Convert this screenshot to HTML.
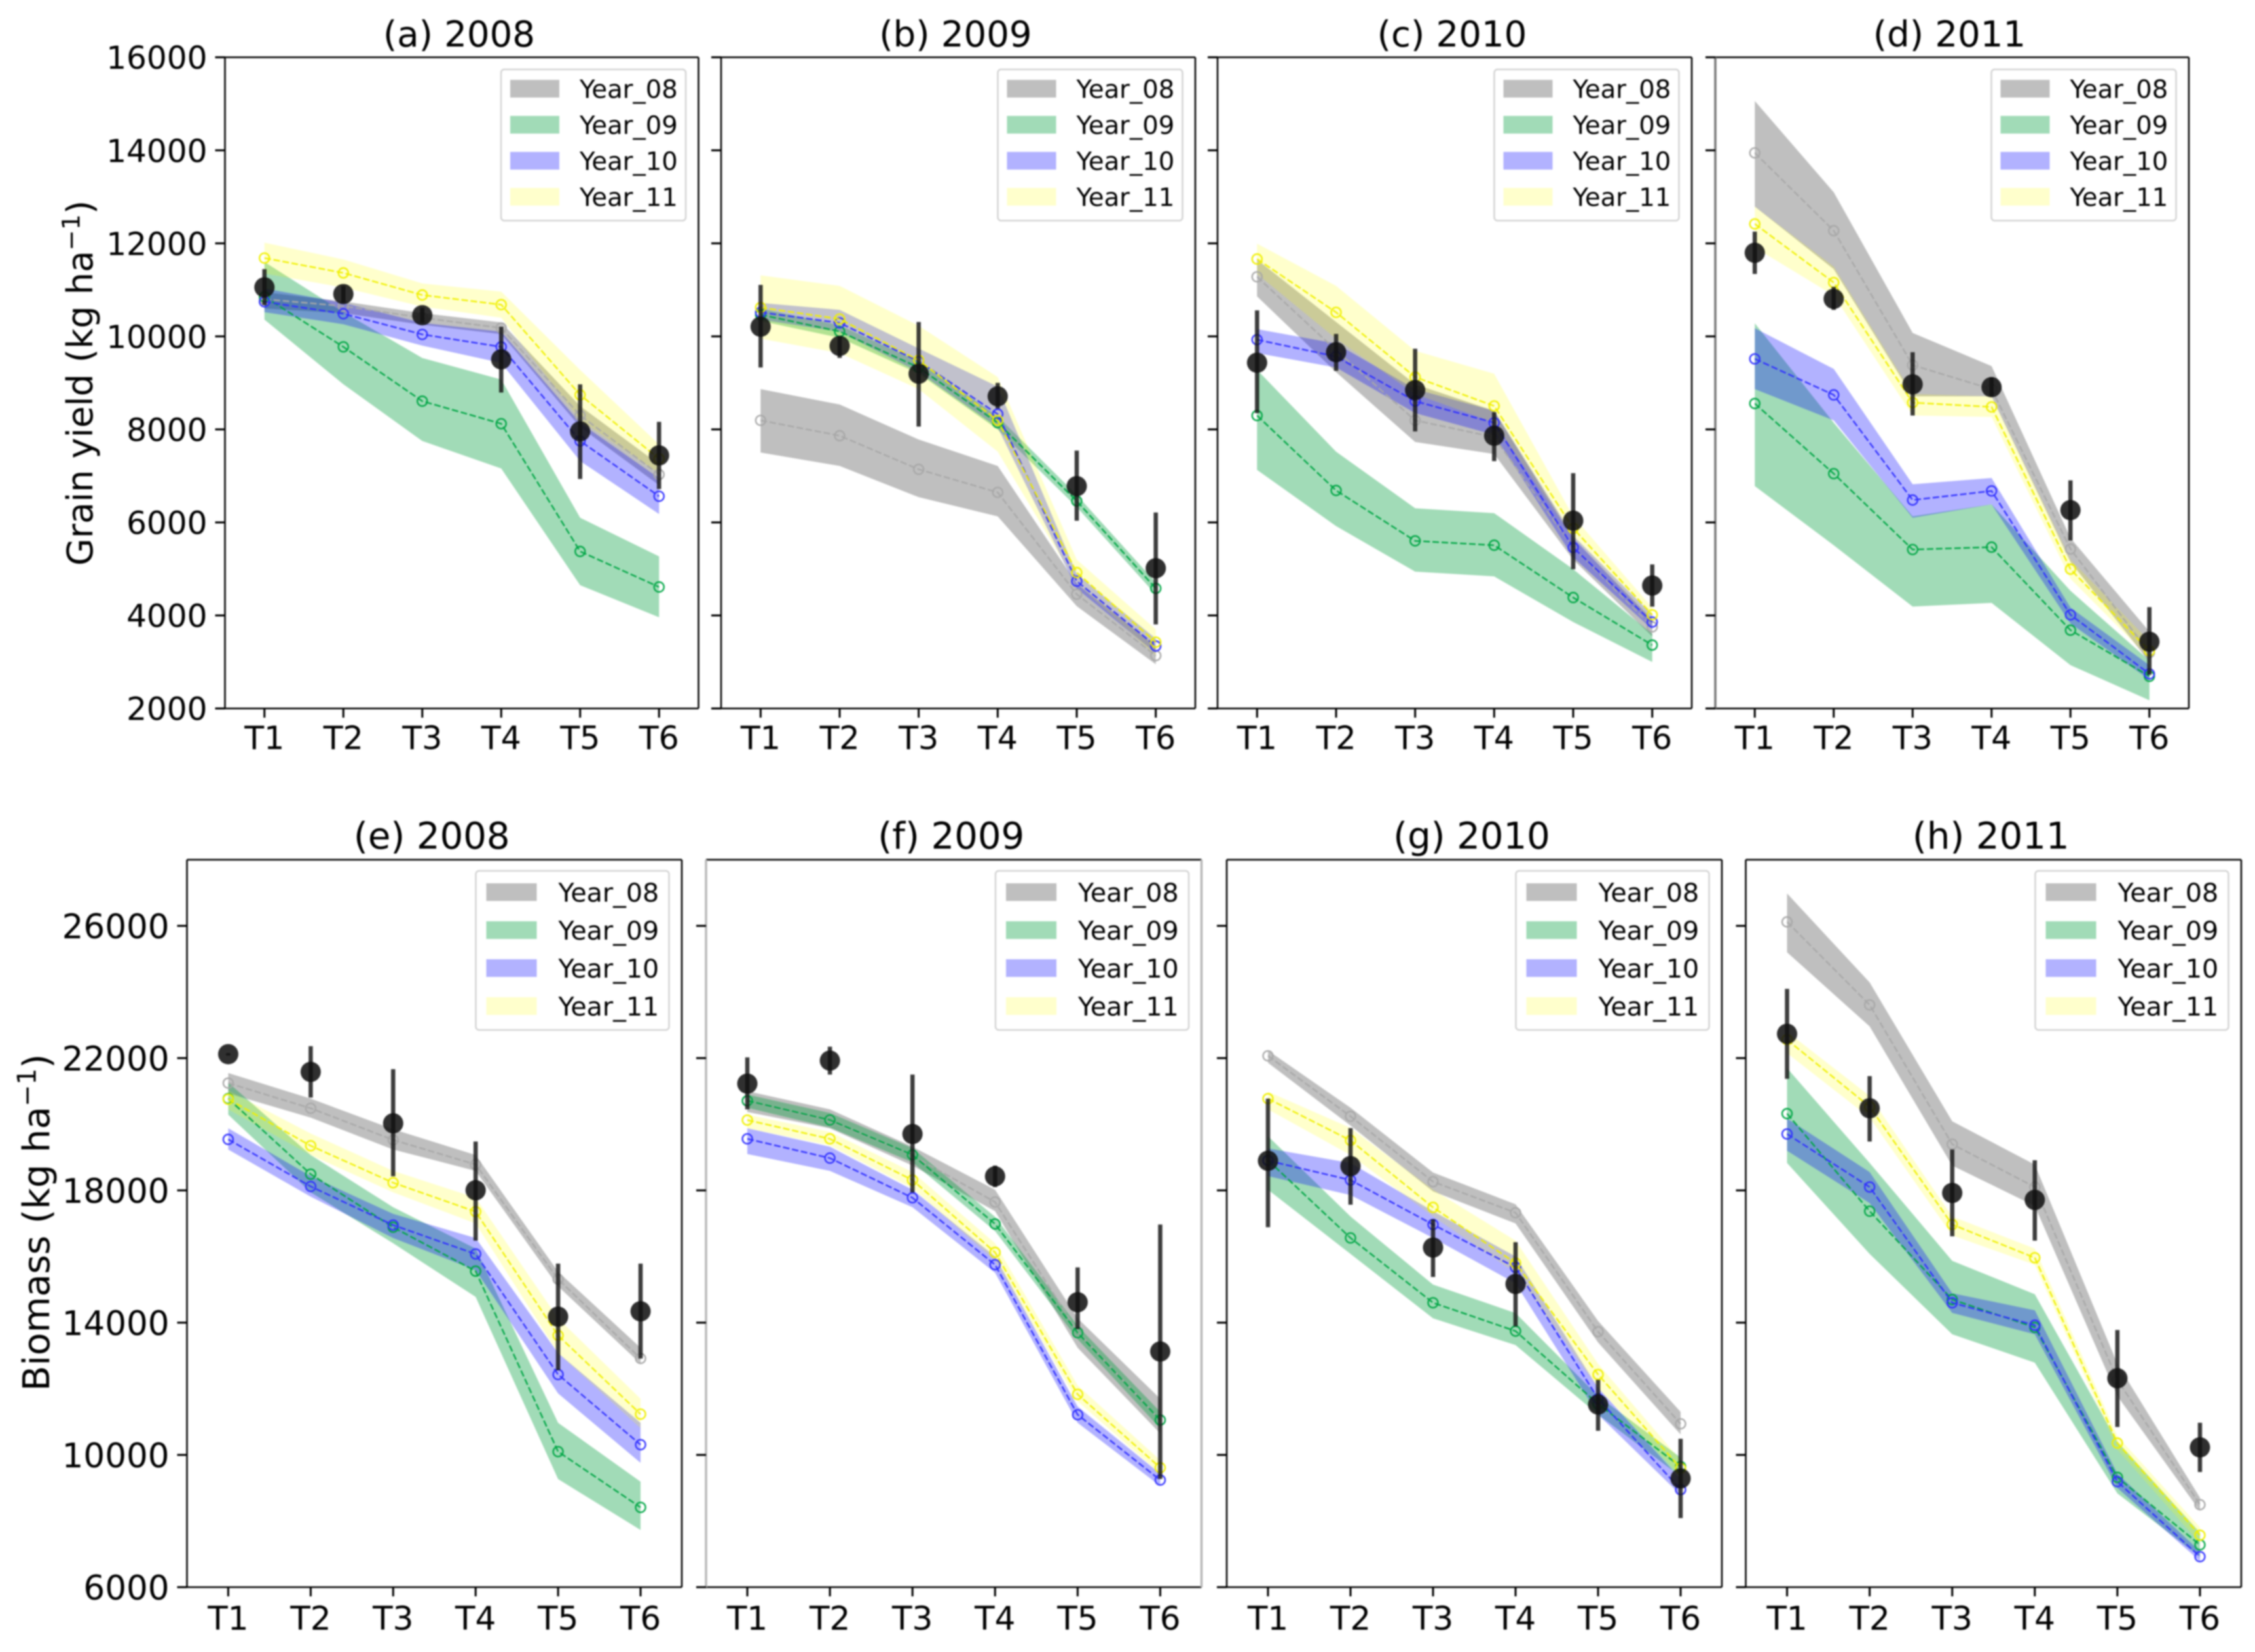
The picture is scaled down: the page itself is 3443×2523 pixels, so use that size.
<!DOCTYPE html>
<html lang="en">
<head>
<meta charset="utf-8">
<title>Grain yield and biomass by treatment, 2008–2011</title>
<style>
html,body{margin:0;padding:0;background:#fff;}
#chart{display:block;width:3443px;height:2523px;filter:blur(1.1px);font-family:"DejaVu Sans","Liberation Sans",sans-serif;}
</style>
</head>
<body>
<svg id="chart" xmlns="http://www.w3.org/2000/svg" width="3443" height="2523" viewBox="0 0 3443 2523">
<rect x="0" y="0" width="3443" height="2523" fill="#ffffff"/>
</svg>
<script>
// Shared labels
const categories = ['T1','T2','T3','T4','T5','T6'];
const seriesLabels = ['Year_08','Year_09','Year_10','Year_11'];
const grainTicks = [2000,4000,6000,8000,10000,12000,14000,16000];
const biomassTicks = [6000,10000,14000,18000,22000,26000];

// (a) 2008
const a_y08_mean=[10800,10650,10400,10180,8300,7030];
const a_y08_hi=[10950,10750,10500,10300,8500,7250];
const a_y08_lo=[10600,10500,10250,10050,8050,6800];
const a_y09_mean=[10850,9774,8607,8122,5376,4612];
const a_y09_hi=[11600,10520,9536,9072,6100,5270];
const a_y09_lo=[10360,8970,7750,7160,4650,3960];
const a_y10_mean=[10744,10486,10042,9774,7750,6563];
const a_y10_hi=[11030,10720,10290,10100,8140,6950];
const a_y10_lo=[10520,10260,9800,9430,7320,6180];
const a_y11_mean=[11684,11364,10889,10682,8742,7368];
const a_y11_hi=[12014,11653,11137,10961,9278,7678];
const a_y11_lo=[11350,11050,10640,10400,8200,7050];
const a_obs=[11054,10910,10455,9506,7957,7441];
const a_obs_hi=[11446,11085,10620,10207,8969,8163];
const a_obs_lo=[10672,10724,10290,8793,6935,6718];

// (b) 2009
const b_y08_mean=[8194,7864,7141,6646,4457,3136];
const b_y08_hi=[8866,8535,7781,7214,4684,3342];
const b_y08_lo=[7503,7214,6543,6130,4199,2950];
const b_y09_mean=[10466,10104,9330,8143,6460,4581];
const b_y09_hi=[10600,10240,9460,8280,6590,4710];
const b_y09_lo=[10330,9970,9200,8000,6330,4450];
const b_y10_mean=[10517,10290,9464,8329,4736,3342];
const b_y10_hi=[10720,10570,9740,8920,4890,3500];
const b_y10_lo=[10360,10100,9230,8040,4580,3190];
const b_y11_mean=[10620,10373,9485,8194,4922,3425];
const b_y11_hi=[11312,11085,10228,9124,5200,3700];
const b_y11_lo=[9950,9640,8865,7523,4684,3140];
const b_obs=[10208,9795,9196,8711,6780,5015];
const b_obs_hi=[11106,10000,10310,9000,7544,6212];
const b_obs_lo=[9330,9536,8060,8450,6037,3807];

// (c) 2010
const c_y08_mean=[11281,9700,8194,7833,5460,3755];
const c_y08_hi=[11650,10310,8970,8400,5660,3910];
const c_y08_lo=[10860,9230,7730,7470,5200,3550];
const c_y09_mean=[8298,6687,5603,5510,4385,3363];
const c_y09_hi=[9280,7520,6305,6200,4994,3600];
const c_y09_lo=[7130,5920,4942,4840,3858,3000];
const c_y10_mean=[9929,9567,8607,8143,5459,3858];
const c_y10_hi=[10156,9846,8866,8400,5716,4013];
const c_y10_lo=[9640,9330,8350,7885,5250,3700];
const c_y11_mean=[11663,10517,9124,8504,5872,4013];
const c_y11_hi=[11994,11085,9691,9196,6130,4168];
const c_y11_lo=[11343,9950,8760,8143,5665,3858];
const c_obs=[9433,9660,8845,7864,6037,4643];
const c_obs_hi=[10559,10053,9733,8370,7059,5097];
const c_obs_lo=[8349,9258,7957,7317,4994,4189];

// (d) 2011
const d_y08_mean=[13945,12272,9382,8865,5428,3200];
const d_y08_hi=[15060,13098,10073,9361,5665,3650];
const d_y08_lo=[12790,11446,8711,8711,5150,3000];
const d_y09_mean=[8556,7048,5417,5469,3683,2692];
const d_y09_hi=[10280,8143,6130,6390,4530,3030];
const d_y09_lo=[6780,5510,4190,4270,2930,2176];
const d_y10_mean=[9516,8742,6481,6677,4013,2743];
const d_y10_hi=[10176,9300,6820,6955,4168,2930];
const d_y10_lo=[8865,8194,6100,6390,3827,2620];
const d_y11_mean=[12417,11157,8576,8483,4994,3239];
const d_y11_hi=[12790,11500,8760,8710,5200,3445];
const d_y11_lo=[11910,10880,8300,8267,4787,3084];
const d_obs=[11797,10806,8969,8907,6264,3435];
const d_obs_hi=[12252,11064,9660,9125,6904,4178];
const d_obs_lo=[11343,10569,8298,8711,5613,2723];

// (e) 2008
const e_y08_mean=[21244,20483,19527,18782,15315,12917];
const e_y08_hi=[21550,20775,19850,19070,15540,13240];
const e_y08_lo=[20935,20200,19235,18590,15100,12760];
const e_y09_mean=[20774,18490,16886,15558,10099,8414];
const e_y09_hi=[21260,19070,17490,16240,10970,9190];
const e_y09_lo=[20290,17940,16400,14780,9270,7730];
const e_y10_mean=[19543,18118,16951,16076,12431,10309];
const e_y10_hi=[19880,18430,17290,16560,13080,10970];
const e_y10_lo=[19235,17810,16560,15590,11860,9760];
const e_y11_mean=[20758,19349,18231,17356,13614,11233];
const e_y11_hi=[21020,19720,18590,17780,14130,11700];
const e_y11_lo=[20450,19070,17940,17000,13080,10810];
const e_obs=[22119,21584,20029,18004,14181,14343];
const e_obs_hi=[22150,22362,21665,19478,15785,15785];
const e_obs_lo=[22080,20807,18425,16481,12561,12917];

// (f) 2009
const f_y08_mean=[20700,20100,19050,17648,13727,11054];
const f_y08_hi=[21000,20450,19320,18020,14130,11700];
const f_y08_lo=[20370,19880,18750,17370,13240,10650];
const f_y09_mean=[20710,20126,19073,16984,13695,11054];
const f_y09_hi=[20900,20340,19280,17200,13900,11300];
const f_y09_lo=[20500,19900,18850,16770,13500,10800];
const f_y10_mean=[19559,18976,17777,15752,11216,9240];
const f_y10_hi=[19880,19320,18020,16000,11460,9430];
const f_y10_lo=[19100,18590,17490,15510,10970,9060];
const f_y11_mean=[20126,19559,18312,16125,11832,9613];
const f_y11_hi=[20290,19770,18555,16400,12100,9840];
const f_y11_lo=[19880,19360,18070,15880,11620,9430];
const f_obs=[21228,21925,19705,18425,14618,13128];
const f_obs_hi=[22022,22346,21503,18750,15671,16967];
const f_obs_lo=[20450,21503,17939,18100,13808,9272];

// (g) 2010
const g_y08_mean=[22070,20240,18263,17324,13727,10941];
const g_y08_hi=[22230,20500,18540,17580,14050,11300];
const g_y08_lo=[21860,19960,17970,17000,13400,10620];
const g_y09_mean=[18911,16562,14602,13744,11540,9645];
const g_y09_hi=[19640,17210,15150,14290,11780,9920];
const g_y09_lo=[18020,16080,14130,13320,11220,9350];
const g_y10_mean=[18900,18312,16967,15671,11702,8948];
const g_y10_hi=[19270,18830,17370,16000,12030,9270];
const g_y10_lo=[18430,17860,16560,15190,11220,8790];
const g_y11_mean=[20774,19511,17486,15801,12431,9596];
const g_y11_hi=[20985,19890,18020,16480,12755,9840];
const g_y11_lo=[20450,19070,17210,15510,12030,9350];
const g_obs=[18895,18733,16271,15169,11524,9289];
const g_obs_hi=[20774,19883,17129,16433,12269,10487];
const g_obs_lo=[16886,17567,15380,13889,10730,8090];

// (h) 2011
const h_y08_mean=[26120,23609,19397,18101,12269,8495];
const h_y08_hi=[26980,24290,20090,18780,12755,8705];
const h_y08_lo=[25200,22960,18750,17530,11780,8300];
const h_y09_mean=[20321,17372,14699,13857,9321,7280];
const h_y09_hi=[21700,18830,15870,14860,10400,7650];
const h_y09_lo=[18830,16080,13650,12790,8835,6920];
const h_y10_mean=[19705,18101,14602,13922,9191,6923];
const h_y10_hi=[20175,18555,14890,14375,9430,7085];
const h_y10_lo=[19200,17615,14295,13650,9000,6790];
const h_y11_mean=[22556,20531,16967,15963,10358,7571];
const h_y11_hi=[22800,20855,17210,16240,10570,7810];
const h_y11_lo=[22150,20200,16640,15750,10160,7330];
const h_obs=[22735,20483,17923,17713,12318,10228];
const h_obs_hi=[24095,21455,19235,18911,13776,10973];
const h_obs_lo=[21374,19478,16611,16481,10844,9483];

const panels = [
 {key:'a',title:'(a) 2008',row:0,first:true,left:343.5,right:1066.5,s:[[a_y08_mean,a_y08_hi,a_y08_lo],[a_y09_mean,a_y09_hi,a_y09_lo],[a_y10_mean,a_y10_hi,a_y10_lo],[a_y11_mean,a_y11_hi,a_y11_lo]],o:[a_obs,a_obs_hi,a_obs_lo]},
 {key:'b',title:'(b) 2009',row:0,left:1101,right:1825,s:[[b_y08_mean,b_y08_hi,b_y08_lo],[b_y09_mean,b_y09_hi,b_y09_lo],[b_y10_mean,b_y10_hi,b_y10_lo],[b_y11_mean,b_y11_hi,b_y11_lo]],o:[b_obs,b_obs_hi,b_obs_lo]},
 {key:'c',title:'(c) 2010',row:0,left:1859,right:2583,s:[[c_y08_mean,c_y08_hi,c_y08_lo],[c_y09_mean,c_y09_hi,c_y09_lo],[c_y10_mean,c_y10_hi,c_y10_lo],[c_y11_mean,c_y11_hi,c_y11_lo]],o:[c_obs,c_obs_hi,c_obs_lo]},
 {key:'d',title:'(d) 2011',row:0,left:2619,right:3342,leftSpine:'#777777',s:[[d_y08_mean,d_y08_hi,d_y08_lo],[d_y09_mean,d_y09_hi,d_y09_lo],[d_y10_mean,d_y10_hi,d_y10_lo],[d_y11_mean,d_y11_hi,d_y11_lo]],o:[d_obs,d_obs_hi,d_obs_lo]},
 {key:'e',title:'(e) 2008',row:1,first:true,left:285.5,right:1041,s:[[e_y08_mean,e_y08_hi,e_y08_lo],[e_y09_mean,e_y09_hi,e_y09_lo],[e_y10_mean,e_y10_hi,e_y10_lo],[e_y11_mean,e_y11_hi,e_y11_lo]],o:[e_obs,e_obs_hi,e_obs_lo]},
 {key:'f',title:'(f) 2009',row:1,left:1078,right:1834.5,leftSpine:'#b8b8b8',rightSpine:'#b8b8b8',s:[[f_y08_mean,f_y08_hi,f_y08_lo],[f_y09_mean,f_y09_hi,f_y09_lo],[f_y10_mean,f_y10_hi,f_y10_lo],[f_y11_mean,f_y11_hi,f_y11_lo]],o:[f_obs,f_obs_hi,f_obs_lo]},
 {key:'g',title:'(g) 2010',row:1,left:1873,right:2629,s:[[g_y08_mean,g_y08_hi,g_y08_lo],[g_y09_mean,g_y09_hi,g_y09_lo],[g_y10_mean,g_y10_hi,g_y10_lo],[g_y11_mean,g_y11_hi,g_y11_lo]],o:[g_obs,g_obs_hi,g_obs_lo]},
 {key:'h',title:'(h) 2011',row:1,left:2665.5,right:3422,s:[[h_y08_mean,h_y08_hi,h_y08_lo],[h_y09_mean,h_y09_hi,h_y09_lo],[h_y10_mean,h_y10_hi,h_y10_lo],[h_y11_mean,h_y11_hi,h_y11_lo]],o:[h_obs,h_obs_hi,h_obs_lo]}
];

const rows = [
 {top:87.5,bottom:1082,min:2000,max:16000,ticks:grainTicks,titleY:71,titleSize:54.5,tickSize:48.5,xSize:49,xY:1144,
  legendTop:18.5,legendW:282,legendH:231,swatchW:75,swatchH:27,rowGap:55,firstRow:29.5,legendSize:38.5,textX:120,swatchX:14},
 {top:1313,bottom:2424,min:6000,max:28000,ticks:biomassTicks,titleY:1296,titleSize:56,tickSize:51.5,xSize:50,xY:2489,
  legendTop:17,legendW:295,legendH:243,swatchW:77,swatchH:27,rowGap:58,firstRow:32.5,legendSize:39.5,textX:126,swatchX:16}
];

const bandColors = ['#808080','#009e3c','#0000ff','#ffff00'];
const bandAlpha = [0.5,0.37,0.3,0.2];
const lineColors = ['#a8a8a8','#00a645','#3030ff','#f0f000'];
const svg = document.getElementById('chart');
const NS = 'http://www.w3.org/2000/svg';

function add(parent, tag, name, attrs, text){
  const el = document.createElementNS(NS, tag);
  
  
  for (const k in attrs) el.setAttribute(k, attrs[k]);
  if (text !== undefined) el.textContent = text;
  parent.appendChild(el);
  return el;
}

panels.forEach(function(p){
  const r = rows[p.row];
  const x = function(i){ return p.left + (i + 0.5) * (p.right - p.left) / categories.length; };
  const y = function(v){ return r.bottom - (v - r.min) / (r.max - r.min) * (r.bottom - r.top); };
  const g = add(svg, 'g', 'panel-' + p.key, {});

  // uncertainty bands
  p.s.forEach(function(series, si){
    const yr = seriesLabels[si].slice(-2);
    const up = series[1].map(function(v,i){ return x(i).toFixed(1)+','+y(v).toFixed(1); });
    const lo = series[2].map(function(v,i){ return x(i).toFixed(1)+','+y(v).toFixed(1); }).reverse();
    add(g, 'polygon', 'band-year-' + yr, {points: up.concat(lo).join(' '), fill: bandColors[si], 'fill-opacity': bandAlpha[si]});
  });

  // mean lines and markers
  p.s.forEach(function(series, si){
    const yr = seriesLabels[si].slice(-2);
    const pts = series[0].map(function(v,i){ return x(i).toFixed(1)+','+y(v).toFixed(1); }).join(' ');
    add(g, 'polyline', 'line-year-' + yr, {points: pts, fill:'none', stroke: lineColors[si], 'stroke-width':2.3, 'stroke-dasharray':'10 4'});
    series[0].forEach(function(v,i){
      add(g, 'circle', 'marker-year-' + yr + '-' + categories[i], {cx:x(i), cy:y(v), r:7.5, fill:'none', stroke: lineColors[si], 'stroke-width':2.3});
    });
  });

  // observed points with error bars
  p.o[0].forEach(function(v,i){
    add(g, 'line', 'observed-error-bar-' + categories[i], {x1:x(i), x2:x(i), y1:y(p.o[1][i]), y2:y(p.o[2][i]), stroke:'#1a1a1a', 'stroke-opacity':0.85, 'stroke-width':6.5});
    add(g, 'circle', 'observed-point-' + categories[i], {cx:x(i), cy:y(v), r:15.5, fill:'#111111', 'fill-opacity':0.87});
  });

  // spines
  add(g, 'line', 'spine-top', {x1:p.left, x2:p.right, y1:r.top, y2:r.top, stroke:'#000', 'stroke-width':2.5});
  add(g, 'line', 'spine-bottom', {x1:p.left, x2:p.right, y1:r.bottom, y2:r.bottom, stroke:'#000', 'stroke-width':2.5});
  add(g, 'line', 'spine-left', {x1:p.left, x2:p.left, y1:r.top, y2:r.bottom, stroke:p.leftSpine||'#000', 'stroke-width':p.leftSpine?3.5:2.5});
  add(g, 'line', 'spine-right', {x1:p.right, x2:p.right, y1:r.top, y2:r.bottom, stroke:p.rightSpine||'#000', 'stroke-width':p.rightSpine?3.5:2.5});

  // y ticks
  r.ticks.forEach(function(t){
    add(g, 'line', 'y-tick-' + t, {x1:p.left-15, x2:p.left, y1:y(t), y2:y(t), stroke:'#000', 'stroke-width':3});
    if (p.first) {
      add(g, 'text', 'y-tick-label-' + t, {x:p.left-27, y:y(t)+r.tickSize*0.365, 'text-anchor':'end', 'font-size':r.tickSize, fill:'#000'}, String(t));
    }
  });

  // x ticks
  categories.forEach(function(c,i){
    add(g, 'line', 'x-tick-' + c, {x1:x(i), x2:x(i), y1:r.bottom, y2:r.bottom+14, stroke:'#000', 'stroke-width':3});
    add(g, 'text', 'x-tick-label-' + c, {x:x(i), y:r.xY, 'text-anchor':'middle', 'font-size':r.xSize, fill:'#000'}, c);
  });

  // title
  add(g, 'text', 'panel-title', {x:(p.left+p.right)/2 - 4, y:r.titleY, 'text-anchor':'middle', 'font-size':r.titleSize, fill:'#000'}, p.title);

  // legend
  const lx = p.right - 19.5 - r.legendW;
  const ly = r.top + r.legendTop;
  const leg = add(g, 'g', 'legend', {});
  add(leg, 'rect', 'legend-frame', {x:lx, y:ly, width:r.legendW, height:r.legendH, rx:5, fill:'#ffffff', 'fill-opacity':0.85, stroke:'#d4d4d4', 'stroke-width':2.5});
  seriesLabels.forEach(function(label, si){
    const cy = ly + r.firstRow + si * r.rowGap;
    add(leg, 'rect', 'legend-swatch-' + label.toLowerCase().replace('_','-'), {x:lx+r.swatchX, y:cy-r.swatchH/2, width:r.swatchW, height:r.swatchH, fill:bandColors[si], 'fill-opacity':bandAlpha[si]});
    add(leg, 'text', 'legend-label-' + label.toLowerCase().replace('_','-'), {x:lx+r.textX, y:cy+r.legendSize*0.365, 'font-size':r.legendSize, fill:'#000'}, label);
  });
});

// y-axis titles
function axisTitle(name, cx, cy, size, word){
  const t = add(svg, 'text', name, {transform:'translate('+cx+','+cy+') rotate(-90)', 'text-anchor':'middle', 'font-size':size, fill:'#000'}, word + ' (kg ha');
  const sup = add(t, 'tspan', name + '-exponent', {dy:-size*0.36, 'font-size':size*0.7}, '\u22121');
  add(t, 'tspan', name + '-close', {dy:size*0.36}, ')');
}
axisTitle('y-axis-title-grain', 141, 585, 54, 'Grain yield');
axisTitle('y-axis-title-biomass', 75, 1867, 56.5, 'Biomass');
</script>
</body>
</html>
